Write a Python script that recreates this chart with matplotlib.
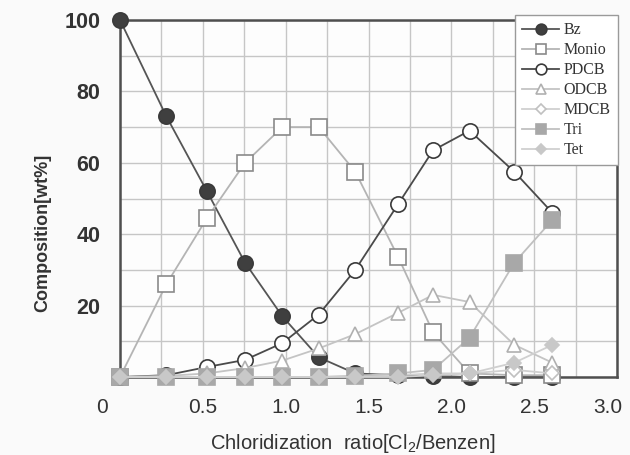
"""

Chlorination product composition chart

"""
#!/bin/python3

import matplotlib
matplotlib.use("Agg")
import matplotlib.pyplot as plt
from matplotlib.transforms import ScaledTranslation

# Chloridization ratio of each sample
RATIO = [0.0, 0.28, 0.525, 0.755, 0.98, 1.2, 1.42, 1.68, 1.89, 2.11, 2.38, 2.61]

# Composition [wt%] of every component
BZ = [100, 73, 52, 32, 17, 5.5, 1, 0.5, 0.3, 0, 0, 0]
MONIO = [0, 26, 44.5, 60, 70, 70, 57.5, 33.5, 12.5, 1, 0.5, 0.5]
PDCB = [0, 0.5, 2.8, 4.8, 9.5, 17.5, 30, 48.5, 63.5, 69, 57.5, 46]
ODCB = [0, 0.3, 1, 2.5, 4.6, 8, 12, 18, 23, 21, 9, 4]
MDCB = [0, 0, 0, 0, 0, 0, 0.2, 0.5, 1, 1, 2, 1]
TRI = [0, 0, 0, 0, 0, 0, 0.3, 1, 2, 11, 32, 44]
TET = [0, 0, 0, 0, 0, 0, 0, 0, 0.5, 1, 4, 9]

SERIES_NAMES = ["Bz", "Monio", "PDCB", "ODCB", "MDCB", "Tri", "Tet"]
X_TICKS = [0, 0.5, 1.0, 1.5, 2.0, 2.5, 3.0]
X_TICK_LABELS = ["0", "0.5", "1.0", "1.5", "2.0", "2.5", "3.0"]
Y_TICKS = [20, 40, 60, 80, 100]


def series_styles():
    """ Returns the line / marker look of every series (Excel grayscale). """
    return [
        dict(color="#555555", marker="o", ms=11, mfc="#3f3f3f", mec="#3a3a3a", lw=1.3),
        dict(color="#b4b4b4", marker="s", ms=11, mfc="#ffffff", mec="#8a8a8a", lw=1.3),
        dict(color="#4a4a4a", marker="o", ms=11, mfc="#ffffff", mec="#3a3a3a", lw=1.3),
        dict(color="#c4c4c4", marker="^", ms=10, mfc="#ffffff", mec="#b0b0b0", lw=1.3),
        dict(color="#d0d0d0", marker="D", ms=7.5, mfc="#ffffff", mec="#c0c0c0", lw=1.3),
        dict(color="#c0c0c0", marker="s", ms=11, mfc="#a8a8a8", mec="#a8a8a8", lw=1.3),
        dict(color="#d0d0d0", marker="D", ms=7.5, mfc="#c8c8c8", mec="#c8c8c8", lw=1.3),
    ]


def shift_label(fig, label, dx_px):
    """ Moves a tick label sideways by dx_px pixels. """
    label.set_transform(label.get_transform() +
                        ScaledTranslation(dx_px / 100, 0, fig.dpi_scale_trans))


def draw_plot():
    """ Draws the composition chart and saves it as out.png """
    fig = plt.figure(figsize=[6.3, 4.55], dpi=100, facecolor="#fafafa")
    ax = fig.add_axes([120 / 630, 1 - 377 / 455, 497 / 630, 357 / 455])
    ax.set_facecolor("#fdfdfd")

    values = [BZ, MONIO, PDCB, ODCB, MDCB, TRI, TET]
    for name, vals, style in zip(SERIES_NAMES, values, series_styles()):
        ax.plot(RATIO, vals, label=name, clip_on=False, zorder=4,
                markeredgewidth=1.2, **style)

    ax.set_xlim(0, 3)
    ax.set_ylim(0, 100)

    # grid every 0.25 / 10, labels every 0.5 / 20
    ax.set_xticks(X_TICKS)
    ax.set_xticks([i * 0.25 for i in range(13)], minor=True)
    ax.set_yticks(Y_TICKS)
    ax.set_yticks(range(0, 101, 10), minor=True)
    ax.grid(which="both", color="#c6c6c6", linewidth=1.0)
    ax.set_axisbelow(True)
    ax.tick_params(which="both", length=0)

    ax.set_xticklabels(X_TICK_LABELS, fontsize=15, family="Liberation Sans",
                       color="#333333")
    ax.set_yticklabels([str(v) for v in Y_TICKS], fontsize=15.5,
                       family="Liberation Sans", fontweight="bold", color="#333333")
    ax.tick_params(axis="x", pad=15)
    ax.tick_params(axis="y", pad=14)

    # the "0" and "3.0" labels sit off their grid lines in the original
    xlabels = ax.get_xticklabels()
    shift_label(fig, xlabels[0], -18)
    shift_label(fig, xlabels[-1], -9)

    for spine in ax.spines.values():
        spine.set_color("#4f4f4f")
        spine.set_linewidth(1.8)

    plt.rcParams["mathtext.default"] = "regular"
    fig.text(0.56, 0.026, "Chloridization  ratio[Cl$_2$/Benzen]", fontsize=14.5,
             family="Liberation Sans", color="#333333", ha="center", va="center")
    fig.text(0.068, 0.488, "Composition[wt%]", fontsize=13, rotation=90,
             family="Liberation Sans", fontweight="bold", color="#333333",
             ha="center", va="center")

    legend = ax.legend(loc="upper right", bbox_to_anchor=(1.002, 1.014),
                       borderaxespad=0, fancybox=False, framealpha=1,
                       edgecolor="#9a9a9a", facecolor="#ffffff",
                       prop={"family": "Liberation Serif", "size": 11.5},
                       markerscale=0.7, handlelength=2.3, handletextpad=0.3,
                       labelspacing=0.25, borderpad=0.45)
    legend.get_frame().set_linewidth(1.0)
    legend.set_zorder(6)
    for text in legend.get_texts():
        text.set_color("#333333")

    fig.savefig("out.png", dpi=100, facecolor=fig.get_facecolor())
    plt.close(fig)


if __name__ == "__main__":
    draw_plot()
